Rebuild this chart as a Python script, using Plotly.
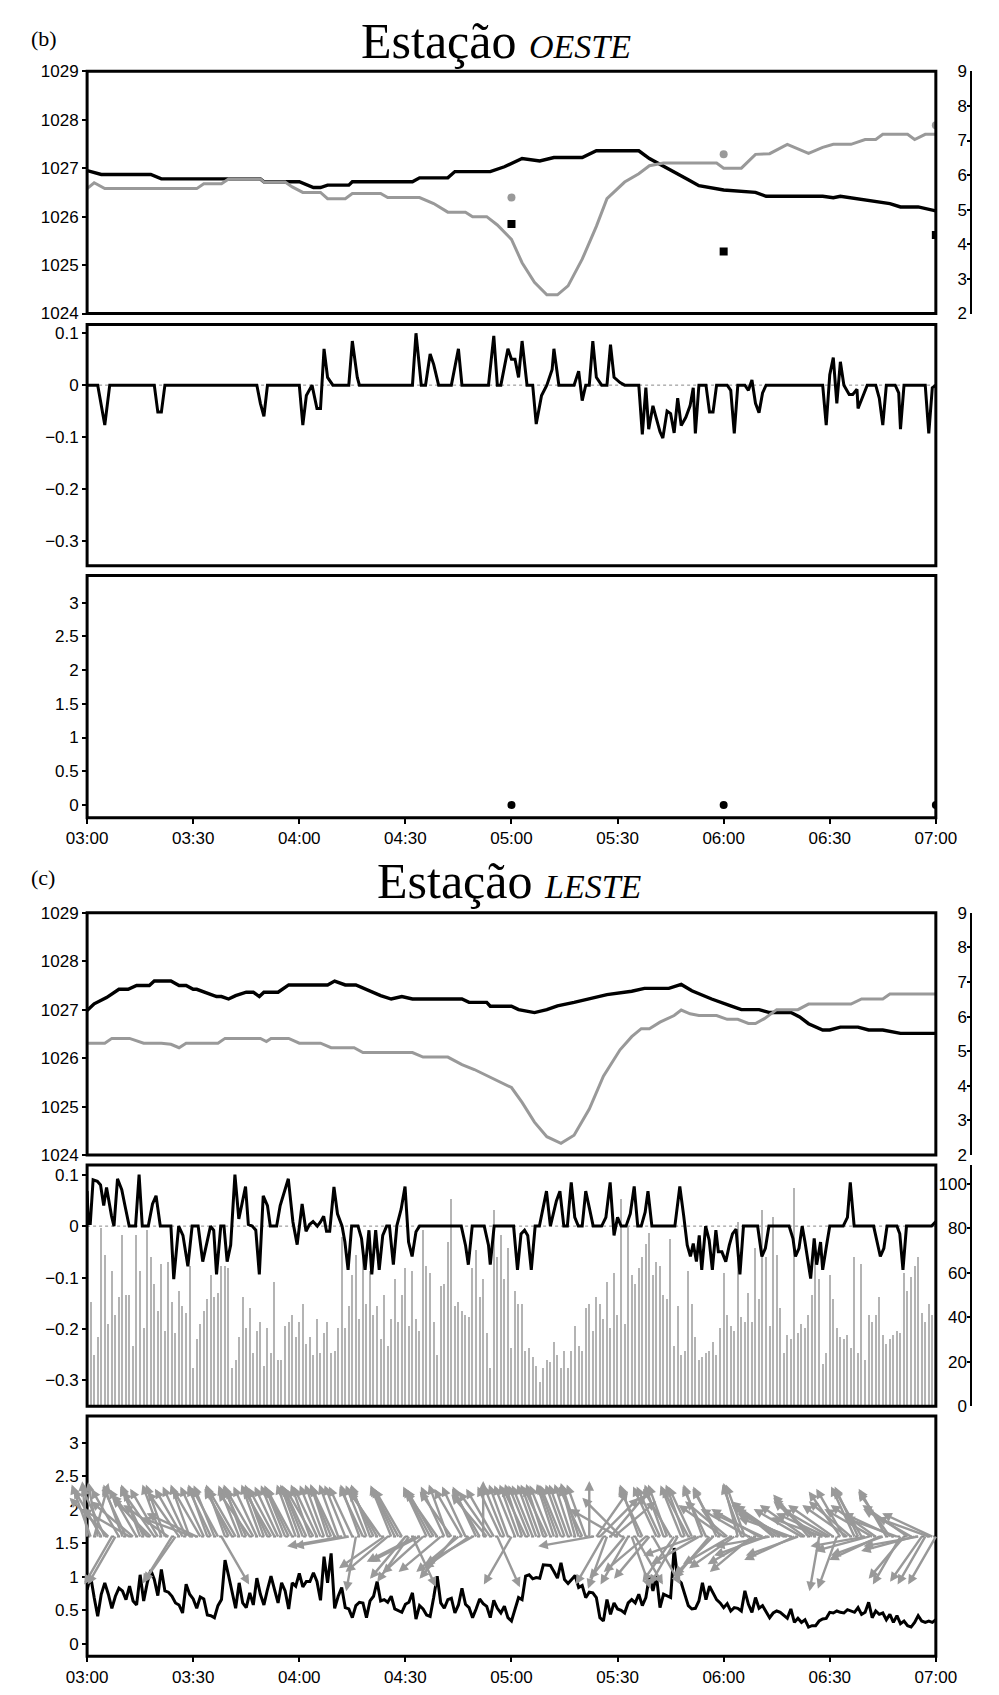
import numpy as np
import pandas as pd
import plotly.graph_objects as go

# ---------------- DATA ----------------
BASE = pd.Timestamp("2000-01-01 03:00")
T_END_MIN = 240

# Estação OESTE – pressure (hPa, left axis): (minute after 03:00, value)
OESTE_PRES = [(0, 1026.95), (4, 1026.87), (18, 1026.87), (21, 1026.78), (49, 1026.78), (50, 1026.72),
              (60, 1026.72), (64, 1026.6), (66, 1026.6), (68, 1026.65), (74, 1026.65), (75, 1026.72),
              (92, 1026.72), (94, 1026.8), (102, 1026.8), (104, 1026.93), (114, 1026.93), (118, 1027.03),
              (123, 1027.2), (128, 1027.15), (132, 1027.22), (140, 1027.22), (144, 1027.36), (156, 1027.36),
              (159, 1027.2), (165, 1026.97), (170, 1026.76), (173, 1026.64), (180, 1026.55), (189, 1026.5),
              (192, 1026.42), (208, 1026.42), (211, 1026.39), (213, 1026.42), (220, 1026.35), (227, 1026.27),
              (230, 1026.2), (235, 1026.2), (240, 1026.12)]
# Estação OESTE – temperature (right axis)
OESTE_TEMP = [(0, 5.61), (2, 5.78), (5, 5.61), (31, 5.61), (33, 5.75), (38, 5.75), (40, 5.89), (49, 5.89),
              (50, 5.8), (56, 5.8), (58, 5.66), (61, 5.5), (66, 5.5), (68, 5.32), (73, 5.32), (75, 5.47),
              (83, 5.47), (85, 5.35), (94, 5.35), (98, 5.18), (102, 4.93), (107, 4.93), (109, 4.8), (113, 4.8),
              (116, 4.56), (120, 4.14), (123, 3.47), (126.5, 2.9), (130, 2.54), (133, 2.54), (136, 2.8),
              (140, 3.57), (144, 4.52), (147, 5.32), (152, 5.8), (156, 6.04), (159, 6.27), (163, 6.35),
              (178, 6.35), (180, 6.2), (185, 6.2), (189, 6.6), (193, 6.62), (198, 6.89), (204, 6.63),
              (208, 6.8), (211, 6.89), (216, 6.89), (220, 7.03), (223, 7.03), (225, 7.18), (232, 7.18),
              (234, 7.03), (237, 7.18), (240, 7.18)]
# hourly observations (right axis)
OBS_MIN = [120, 180, 240]
OESTE_OBS_TEMP = [5.35, 6.60, 7.44]
OESTE_OBS_DEW = [4.59, 3.79, 4.27]
OESTE_RAIN = [0, 0, 0]

# Estação OESTE – pressure tendency
OESTE_DP = [(0, 0), (3, 0), (5, -0.077), (6.4, 0), (19, 0), (20, -0.052), (21, -0.052), (22, 0), (48, 0),
            (49, -0.035), (50, -0.06), (51, 0), (60, 0), (61, -0.077), (62, -0.02), (63.6, 0), (65, -0.045),
            (66, -0.045), (67, 0.07), (68, 0.015), (69.5, 0), (74, 0), (75, 0.085), (76.4, 0.015), (77, 0),
            (92, 0), (93, 0.1), (94.5, 0), (95.7, 0), (97, 0.06), (98, 0.04), (99.4, 0), (103, 0), (105, 0.07),
            (106, 0), (113.5, 0), (115, 0.095), (116, 0), (117, 0), (119, 0.07), (120, 0.05), (121, 0.05),
            (122, 0.015), (123, 0.085), (124.4, 0), (126, 0), (127, -0.075), (128.5, -0.02), (130, 0),
            (131.5, 0.03), (132, 0.07), (133.4, 0), (137.7, 0), (139, 0.027), (140, -0.03), (141, 0), (142, 0),
            (143, 0.085), (144, 0.015), (145.5, 0), (147, 0), (148, 0.078), (149, 0.015), (150.7, 0.005),
            (152, 0), (156, 0), (157, -0.095), (158, -0.005), (158.8, -0.085), (160, -0.04), (161, -0.065),
            (162, -0.09), (162.8, -0.102), (164, -0.05), (165, -0.055), (166, -0.092), (167, -0.025),
            (168, -0.078), (169.3, -0.062), (170.5, -0.04), (171.4, -0.005), (172, -0.093), (173, 0), (175, 0),
            (176, -0.052), (177, -0.052), (178, 0), (181, 0), (182, -0.01), (183, -0.093), (184, 0), (186, 0),
            (187, -0.01), (188, 0.01), (189, -0.035), (190, -0.053), (191, -0.015), (192, 0), (208, 0),
            (209, -0.077), (210, 0.02), (211, 0.053), (212, -0.035), (213, 0.045), (214, 0), (215.5, -0.018),
            (216.5, -0.018), (217.7, -0.008), (218, -0.045), (220, -0.01), (220.6, 0), (223, 0), (224, -0.025),
            (225, -0.077), (226, 0), (228.5, 0), (229.5, -0.015), (230, -0.085), (231, 0), (237, 0),
            (238, -0.093), (239, -0.005), (240, 0)]

# Estação LESTE – pressure (left axis)
LESTE_PRES = [(0, 1026.98), (2, 1027.12), (5.5, 1027.25), (9, 1027.42), (11.6, 1027.42), (14, 1027.5),
              (17.6, 1027.5), (19, 1027.59), (23.7, 1027.59), (26, 1027.5), (28, 1027.5), (30, 1027.42),
              (31, 1027.42), (33, 1027.36), (36.6, 1027.27), (38, 1027.27), (40, 1027.22), (42, 1027.29),
              (45, 1027.36), (47, 1027.36), (48.7, 1027.27), (50, 1027.36), (54, 1027.36), (57, 1027.51),
              (68, 1027.51), (70, 1027.59), (73, 1027.51), (76, 1027.51), (79, 1027.42), (83, 1027.29),
              (86, 1027.22), (89, 1027.27), (92, 1027.22), (106, 1027.22), (108, 1027.15), (113, 1027.15),
              (114, 1027.07), (120, 1027.07), (122, 1027.0), (126.5, 1026.94), (130, 1027.0), (133, 1027.08),
              (137.7, 1027.15), (142, 1027.22), (147, 1027.31), (154, 1027.38), (157.6, 1027.44),
              (164.5, 1027.44), (168, 1027.52), (171, 1027.39), (176.6, 1027.22), (182, 1027.08),
              (185, 1027.0), (190, 1027.0), (193, 1026.94), (199, 1026.94), (201.5, 1026.85), (204, 1026.71),
              (208, 1026.58), (210, 1026.58), (213, 1026.64), (218, 1026.64), (221, 1026.58), (225, 1026.58),
              (230, 1026.51), (240, 1026.51)]
# Estação LESTE – temperature (right axis)
LESTE_TEMP = [(0, 5.23), (5, 5.23), (7, 5.37), (12, 5.37), (16, 5.23), (21, 5.23), (23.7, 5.2), (26, 5.1),
              (28, 5.23), (37, 5.23), (39, 5.37), (49, 5.37), (50.7, 5.28), (52, 5.37), (57, 5.37), (60, 5.23),
              (66, 5.23), (69, 5.1), (75.5, 5.1), (78, 4.96), (92, 4.96), (95, 4.83), (102, 4.83), (106, 4.61),
              (109.5, 4.47), (113, 4.3), (116.5, 4.14), (120, 3.95), (123, 3.52), (126.5, 2.95), (130, 2.53),
              (134, 2.34), (137.7, 2.57), (142, 3.33), (146, 4.28), (150.7, 5.04), (154, 5.42), (156.7, 5.65),
              (159, 5.65), (162, 5.84), (166, 6.03), (168, 6.19), (170.5, 6.08), (173, 6.03), (178, 6.03),
              (181, 5.92), (184, 5.92), (187, 5.8), (189, 5.8), (191.5, 5.94), (195, 6.2), (201, 6.2),
              (204, 6.36), (216, 6.36), (219, 6.51), (225, 6.51), (227, 6.65), (240, 6.65)]
# Estação LESTE – pressure tendency (left axis)
LESTE_DP = [(0, 0.068), (0.35, 0.005), (0.9, 0.005), (1.7, 0.09), (2.9, 0.087), (3.8, 0.08), (4.7, 0.04),
            (5.5, 0.075), (6.9, 0.02), (7.6, 0), (8.6, 0.092), (9.8, 0.071), (10.7, 0.04), (11.9, 0), (13.7, 0),
            (14.7, 0.1), (15.6, 0), (17.3, 0), (18.5, 0.043), (19.5, 0.059), (20.7, 0), (23.7, 0), (24.5, -0.103),
            (25.9, 0), (27.1, -0.018), (28.5, -0.078), (29.7, 0), (31.4, 0), (32.7, -0.069), (33.7, -0.037),
            (34.9, 0), (35.8, -0.008), (36.6, -0.094), (37.8, 0), (38.7, 0), (39.6, -0.069), (40.6, -0.037),
            (41.8, 0.1), (42.9, 0.014), (43.7, 0.04), (44.8, 0.077), (45.6, 0.003), (46.7, 0), (47.7, -0.008),
            (48.7, -0.094), (49.8, 0.059), (51, 0.04), (51.8, 0), (53.6, 0), (54.6, 0.04), (55.8, 0.068),
            (56.9, 0.092), (58.2, 0.008), (59.4, -0.036), (60.8, 0.043), (61.9, -0.01), (62.9, 0.003),
            (63.9, 0.009), (65.1, 0), (66, 0.008), (66.9, 0.019), (67.7, -0.01), (68.6, -0.01), (69.8, 0.076),
            (70.8, 0.024), (72.1, 0), (72.9, -0.031), (73.8, -0.085), (74.8, 0), (76.6, 0), (77.6, -0.024),
            (78.6, -0.085), (79.7, -0.008), (80.5, -0.094), (81.6, -0.008), (82.6, -0.085), (83.6, -0.018),
            (84.7, 0), (85.5, 0), (86.6, -0.075), (87.6, 0.001), (88.8, 0.033), (89.9, 0.077), (90.9, -0.031),
            (91.9, -0.059), (93, -0.011), (94, 0), (105.8, 0), (107, -0.037), (107.8, -0.075), (108.9, 0),
            (112.3, 0), (113.5, -0.037), (114, -0.075), (115.1, 0), (120.6, 0), (121.7, -0.085), (122.7, -0.015),
            (123.7, -0.008), (124.6, -0.018), (125.6, -0.085), (126.7, 0), (127.9, 0), (129.1, 0.04),
            (129.9, 0.068), (131, 0), (132, 0.028), (132.7, 0.049), (133.7, 0.068), (134.8, 0), (135.8, 0),
            (136.9, 0.085), (137.9, 0.017), (138.9, 0), (140, 0), (141, 0.068), (142, 0.036), (143.1, 0),
            (145.5, 0), (146.7, 0.017), (147.9, 0.085), (149, -0.018), (150, 0.017), (151, 0), (152.4, 0),
            (153.6, 0.024), (154.7, 0.077), (155.7, 0), (156.7, 0), (157.8, 0.027), (158.6, 0.068), (159.7, 0),
            (166.2, 0), (167.6, 0.077), (168.7, 0.02), (169.7, -0.037), (170.6, -0.059), (171.4, -0.034),
            (172.3, -0.069), (173.1, -0.018), (173.8, -0.085), (174.9, 0), (175.9, -0.027), (176.8, -0.085),
            (177.8, -0.008), (178.5, -0.05), (179.5, -0.05), (180.6, -0.069), (181.6, -0.037), (182.5, -0.015),
            (183.5, -0.006), (184.6, -0.094), (185.6, 0), (189.6, 0), (190.8, -0.059), (191.8, -0.043),
            (192.8, 0), (198.5, 0), (199.6, -0.024), (200.3, -0.059), (201.3, -0.043), (202.2, 0), (203, -0.031),
            (203.7, -0.059), (204.6, -0.102), (205.6, -0.024), (206.3, -0.075), (207.4, -0.031), (208, -0.085),
            (209.1, -0.037), (210, 0), (213.8, 0), (215, 0.017), (215.8, 0.085), (216.9, 0), (222.4, 0),
            (223.6, -0.034), (224.3, -0.059), (225.3, -0.043), (226.2, 0), (229, 0), (229.8, -0.015),
            (230.7, -0.085), (231.7, 0), (238.8, 0), (240, 0.009)]
# Estação LESTE – 1-minute bars (right axis, 0–100)
LESTE_BARS = [47, 23, 31, 80, 68, 37, 61, 41, 49, 77, 50, 50, 27, 77, 61, 35, 79, 67, 55, 43,
              64, 34, 65, 47, 33, 52, 45, 42, 63, 17, 30, 37, 43, 48, 59, 49, 51, 63, 63, 62,
              17, 21, 31, 49, 35, 44, 24, 34, 38, 18, 35, 24, 56, 21, 21, 36, 38, 41, 31, 38,
              46, 28, 31, 23, 39, 24, 33, 38, 24, 25, 35, 76, 35, 45, 59, 68, 39, 68, 46, 61,
              41, 45, 30, 50, 27, 39, 57, 38, 50, 62, 36, 61, 39, 34, 79, 63, 60, 38, 23, 54,
              55, 74, 93, 45, 47, 43, 41, 40, 62, 70, 49, 57, 33, 17, 88, 67, 77, 57, 71, 26,
              52, 46, 46, 25, 26, 22, 18, 11, 17, 21, 20, 29, 23, 17, 25, 17, 25, 36, 27, 25,
              44, 46, 34, 49, 46, 39, 56, 35, 60, 41, 93, 37, 81, 59, 55, 62, 67, 73, 78, 59,
              65, 63, 50, 48, 75, 27, 45, 23, 25, 61, 46, 31, 21, 22, 24, 25, 29, 23, 35, 60,
              41, 36, 34, 83, 40, 38, 51, 38, 71, 48, 88, 67, 36, 85, 68, 44, 24, 32, 30, 98,
              33, 37, 35, 41, 50, 68, 57, 19, 24, 59, 48, 35, 31, 30, 32, 26, 67, 24, 64, 21,
              41, 38, 41, 49, 32, 28, 30, 32, 34, 33, 60, 52, 58, 63, 67, 42, 38, 46, 41]
# Estação LESTE – wind speed (black line, ~1-min samples from 03:00 to 07:00)
LESTE_WSPD = [0.81, 1.01, 0.69, 0.41, 0.74, 0.91, 0.74, 0.53, 0.71, 0.83, 0.79, 0.66, 0.86, 0.64, 0.58,
              1.03, 0.64, 0.91, 1.1, 0.96, 0.72, 1.11, 0.79, 0.77, 0.71, 0.61, 0.58, 0.46, 0.89, 0.74,
              0.67, 0.53, 0.7, 0.67, 0.43, 0.42, 0.39, 0.57, 0.66, 1.25, 1.02, 0.79, 0.53, 0.91, 0.61,
              0.54, 0.76, 0.58, 0.98, 0.74, 0.58, 0.81, 1.01, 0.81, 0.61, 0.91, 0.79, 0.52, 0.91, 0.86,
              1.05, 0.85, 0.93, 0.93, 1.06, 0.93, 0.65, 1.3, 0.91, 1.35, 0.53, 0.71, 0.84, 0.54, 0.52,
              0.39, 0.57, 0.62,
              0.61, 0.39, 0.64, 0.71, 0.93, 0.64, 0.66, 0.62, 0.71, 0.52, 0.5, 0.47, 0.59, 0.62, 0.76,
              0.37, 0.57, 0.52, 0.43, 0.41, 0.69, 1.01, 0.61, 0.53, 0.66, 0.68, 0.46, 0.58, 0.83, 0.59,
              0.54, 0.39, 0.52, 0.67, 0.6, 0.56, 0.39, 0.65, 0.53, 0.46, 0.56, 0.39, 0.34, 0.52, 0.69,
              0.66, 1.01, 1.03, 0.97, 0.99, 0.98, 1.18, 1.18, 1.17, 1.08, 0.98, 1.21, 0.96, 0.9, 0.96,
              1.02, 0.84, 0.87, 0.69, 0.77, 0.76, 0.69, 0.39, 0.34, 0.66, 0.44, 0.61, 0.52, 0.5, 0.46,
              0.61, 0.66, 0.61, 0.74, 0.57, 0.69, 1.01,
              0.79, 1.01, 0.54, 0.74, 0.71, 0.69, 1.43, 0.96, 0.91, 0.74, 0.57, 0.52, 0.53, 0.64, 0.91,
              0.66, 0.86, 0.76, 0.66, 0.61, 0.54, 0.6, 0.49, 0.54, 0.53, 0.49, 0.79, 0.59, 0.47, 0.69,
              0.53, 0.57, 0.47, 0.39, 0.46, 0.49, 0.47, 0.42, 0.38, 0.52, 0.32, 0.38, 0.32, 0.36, 0.25,
              0.27, 0.27, 0.34, 0.37, 0.38, 0.47, 0.46, 0.49, 0.47, 0.46, 0.51, 0.49, 0.47, 0.54, 0.44,
              0.47, 0.62, 0.39, 0.49, 0.44, 0.46, 0.36, 0.44, 0.32, 0.42, 0.3, 0.34, 0.27, 0.25, 0.32,
              0.42, 0.34, 0.32, 0.34, 0.32, 0.36]
# Estação LESTE – wind direction arrows every minute (degrees, 0 = up, negative = toward left)
ARROW_DIR = [-5, -20, 15, -10, -30, -25, -45, -150, -150, -30,
             -20, -25, -60, -50, -30, -20, -25, -40, -45, -35,
             -30, -20, -20, -55, -148, -145, -35, -30, -25, -20,
             -70, -65, -30, -25, -20, -25, -22, -28, 150, -20,
             -25, -30, -30, -22, -20, -25, -35, -30, -25, -20,
             -20, -25, -30, -28, -25, -22, -22, -25, -28, -20,
             -20, -22, -25, -20, -30, -25, -22, -20, -18, -22,
             -25, -20, -100, -22, -100, -25, -170, -20, -25, -22,
             -20, -25, -30, -35, -125, -130, -22, -25, -28, -30,
             -140, -145, 155, -117, -117, -132, -25, -28, -30, -35,
             -130, -25, -20, -35, -140, -130, -30, -25, -125, -120,
             -25, -30, 0, -40, -35, -30, 156, -25, -22, -20,
             -150, -22, -20, -18, -25, -22, -22, -20, -20, -18,
             -25, -22, -18, -20, -22, -20, -20, -18, -15, -18,
             -25, -20, 0, -100, 35, 45, -150, -160, 40, 50,
             -60, -45, -140, -150, 160, 150, -20, -25, -130, -140,
             150, -25, -25, -20, -20, -30, -145, -150, -22, -20,
             -28, -25, -110, -120, -20, -25, -140, -135, -25, -30,
             -55, -50, -120, -125, -15, -20, -20, -60, -130, -120,
             -60, -65, -110, -100, -50, -55, -55, -60, -65, -70,
             -115, -110, -60, -55, -40, -45, -50, -170, -70, -65,
             -60, -55, -160, -35, -30, -55, -50, -25, -25, -30,
             -100, -105, -60, -55, -115, -110, -30, -35, -65, -70,
             -150, -140, -55, -60, -105, -100, -145, -150, -70, -65,
             -150]
ARROW_BASE = 1.6

# ---------------- HELPERS ----------------
W, H = 999, 1695


def tm(m):
    return BASE + pd.to_timedelta(m, unit="min")


def unzip(pairs):
    return [tm(p[0]) for p in pairs], [p[1] for p in pairs]


def ydom(top, bot):
    return [1 - bot / H, 1 - top / H]


X_DOM = [69 / W, 955 / W]
PANELS = {1: (63, 308), 2: (319, 563), 3: (573, 818), 4: (914, 1159), 5: (1169, 1413), 6: (1423, 1666)}
GRAY = "#999999"
TICKFONT = dict(family="Liberation Sans, Arial, sans-serif", size=17, color="black")
SERIF = "Liberation Serif, Times New Roman, serif"

fig = go.Figure()

# Panel 1 – OESTE pressure & temperature
x, y = unzip(OESTE_PRES)
fig.add_trace(go.Scatter(x=x, y=y, mode="lines", line=dict(color="black", width=3.4), xaxis="x", yaxis="y"))
x, y = unzip(OESTE_TEMP)
fig.add_trace(go.Scatter(x=x, y=y, mode="lines", line=dict(color=GRAY, width=3), xaxis="x", yaxis="y2"))
fig.add_trace(go.Scatter(x=[tm(m) for m in OBS_MIN], y=OESTE_OBS_TEMP, mode="markers",
                         marker=dict(color=GRAY, size=8, symbol="circle"), xaxis="x", yaxis="y2"))
fig.add_trace(go.Scatter(x=[tm(m) for m in OBS_MIN], y=OESTE_OBS_DEW, mode="markers",
                         marker=dict(color="black", size=8, symbol="square"), xaxis="x", yaxis="y2"))
# Panel 2 – OESTE tendency
x, y = unzip(OESTE_DP)
fig.add_trace(go.Scatter(x=x, y=y, mode="lines", line=dict(color="black", width=3), xaxis="x2", yaxis="y3"))
# Panel 3 – OESTE rain
fig.add_trace(go.Scatter(x=[tm(m) for m in OBS_MIN], y=OESTE_RAIN, mode="markers",
                         marker=dict(color="black", size=8), xaxis="x3", yaxis="y4"))
# Panel 4 – LESTE pressure & temperature
x, y = unzip(LESTE_PRES)
fig.add_trace(go.Scatter(x=x, y=y, mode="lines", line=dict(color="black", width=3.4), xaxis="x4", yaxis="y5"))
x, y = unzip(LESTE_TEMP)
fig.add_trace(go.Scatter(x=x, y=y, mode="lines", line=dict(color=GRAY, width=3), xaxis="x4", yaxis="y6"))
# Panel 5 – LESTE bars + tendency
fig.add_trace(go.Bar(x=[tm(m) for m in range(1, len(LESTE_BARS) + 1)], y=LESTE_BARS, width=0.3 * 60000,
                     marker=dict(color="#b4b4b4", line=dict(width=0)), xaxis="x5", yaxis="y7"))
x, y = unzip(LESTE_DP)
fig.add_trace(go.Scatter(x=x, y=y, mode="lines", line=dict(color="black", width=3), xaxis="x5", yaxis="y8"))
# Panel 6 – LESTE wind speed
ws_t = pd.date_range(tm(0), tm(T_END_MIN), periods=len(LESTE_WSPD))
fig.add_trace(go.Scatter(x=ws_t, y=LESTE_WSPD, mode="lines", line=dict(color="black", width=3),
                         xaxis="x6", yaxis="y9"))

# arrows (one per minute, from the baseline)
ARROW_LEN_PX = 57
for m, d in enumerate(ARROW_DIR):
    r = np.deg2rad(d)
    fig.add_annotation(x=tm(m), y=ARROW_BASE, xref="x6", yref="y9", text="", showarrow=True,
                       ax=float(ARROW_LEN_PX * np.sin(r)), ay=float(-ARROW_LEN_PX * np.cos(r)),
                       axref="pixel", ayref="pixel", arrowside="start", startarrowhead=2,
                       startarrowsize=0.8, arrowwidth=2.4, arrowcolor=GRAY, standoff=0, startstandoff=0)

# ---------------- LAYOUT ----------------
layout = dict(width=W, height=H, margin=dict(l=0, r=0, t=0, b=0), showlegend=False,
              paper_bgcolor="white", plot_bgcolor="white", bargap=0)

xr = [tm(0), tm(T_END_MIN)]
yanchor_of = {1: "y", 2: "y3", 3: "y4", 4: "y5", 5: "y7", 6: "y9"}
for i in range(1, 7):
    key = "xaxis" if i == 1 else f"xaxis{i}"
    labeled = i in (3, 6)
    layout[key] = dict(domain=X_DOM, range=xr, anchor=yanchor_of[i], showgrid=False, zeroline=False,
                       showline=False, ticks="outside" if labeled else "", ticklen=5, tickwidth=1.5,
                       tickcolor="black", showticklabels=labeled, tickformat="%H:%M",
                       dtick=30 * 60000, tick0=tm(0), tickfont=TICKFONT)

left_common = dict(showgrid=False, zeroline=False, showline=False, ticks="outside", ticklen=4,
                   tickwidth=1.5, tickcolor="black", tickfont=TICKFONT)
right_common = dict(showgrid=False, zeroline=False, showline=True, linecolor="black", linewidth=1.5,
                    side="right", anchor="free", position=992 / W, ticks="inside", ticklen=4,
                    tickwidth=1.5, tickcolor="black", ticklabelposition="inside",
                    ticklabeloverflow="allow", tickfont=TICKFONT)

layout["yaxis"] = dict(domain=ydom(*PANELS[1]), range=[1024, 1029], dtick=1, anchor="x", **left_common)
layout["yaxis2"] = dict(overlaying="y", range=[2, 9], dtick=1, **right_common)
layout["yaxis3"] = dict(domain=ydom(*PANELS[2]), range=[-0.348, 0.117], dtick=0.1, anchor="x2", **left_common)
layout["yaxis4"] = dict(domain=ydom(*PANELS[3]), range=[-0.19, 3.4], dtick=0.5, anchor="x3", **left_common)
layout["yaxis5"] = dict(domain=ydom(*PANELS[4]), range=[1024, 1029], dtick=1, anchor="x4", **left_common)
layout["yaxis6"] = dict(overlaying="y5", range=[2, 9], dtick=1, **right_common)
layout["yaxis7"] = dict(domain=ydom(*PANELS[5]), range=[0, 108.4], dtick=20, **right_common)
layout["yaxis8"] = dict(overlaying="y7", side="left", anchor="x5", range=[-0.35, 0.119], dtick=0.1,
                        **left_common)
layout["yaxis9"] = dict(domain=ydom(*PANELS[6]), range=[-0.187, 3.4], dtick=0.5, anchor="x6", **left_common)

shapes = []
for i, (top, bot) in PANELS.items():
    d = ydom(top, bot)
    shapes.append(dict(type="rect", xref="paper", yref="paper", x0=X_DOM[0], x1=X_DOM[1], y0=d[0], y1=d[1],
                       line=dict(color="black", width=3), fillcolor="rgba(0,0,0,0)", layer="above"))
for xa, ya, yv in (("x2", "y3", 0), ("x5", "y8", 0), ("x6", "y9", ARROW_BASE)):
    shapes.append(dict(type="line", xref=f"{xa} domain", yref=ya, x0=0, x1=1, y0=yv, y1=yv,
                       line=dict(color="#888888", width=1 if yv == 0 else 2, dash="dot"), layer="below"))
layout["shapes"] = shapes

fig.update_layout(**layout)

# titles and panel letters
fig.add_annotation(xref="paper", yref="paper", x=496 / W, y=1 - 32 / H, xanchor="center", yanchor="middle",
                   showarrow=False, font=dict(family=SERIF, size=50, color="black"),
                   text="Estação <i><span style='font-size:34px'>OESTE</span></i>")
fig.add_annotation(xref="paper", yref="paper", x=510 / W, y=1 - 882 / H, xanchor="center", yanchor="middle",
                   showarrow=False, font=dict(family=SERIF, size=50, color="black"),
                   text="Estação <i><span style='font-size:34px'>LESTE</span></i>")
fig.add_annotation(xref="paper", yref="paper", x=8 / W, y=1 - 30 / H, xanchor="left", yanchor="middle",
                   showarrow=False, font=dict(family=SERIF, size=22, color="black"), text="(b)")
fig.add_annotation(xref="paper", yref="paper", x=8 / W, y=1 - 878 / H, xanchor="left", yanchor="middle",
                   showarrow=False, font=dict(family=SERIF, size=22, color="black"), text="(c)")

fig.write_html("out.html")
